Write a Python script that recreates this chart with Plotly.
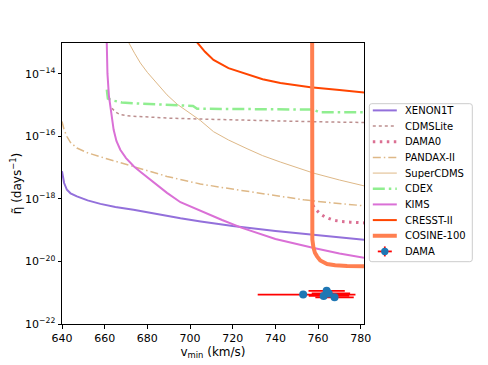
import plotly.graph_objects as go

xenon_v = [640, 641, 642.3, 644, 647, 652, 658, 665, 673.5, 685, 695.5, 705, 720, 740, 760, 781.5]
xenon_eta = [7.6e-18, 3.2e-18, 1.95e-18, 1.5e-18, 1.2e-18, 8.9e-19, 6.9e-19, 5.5e-19, 4.5e-19,
             3.2e-19, 2.4e-19, 1.9e-19, 1.35e-19, 9.3e-20, 6.9e-20, 4.9e-20]

cdmslite_v = [663.4, 665, 667.3, 672, 681.4, 690, 704.8, 720, 740, 760, 781.5]
cdmslite_eta = [7.9e-16, 6.0e-16, 4.9e-16, 4.4e-16, 4.1e-16, 3.8e-16, 3.55e-16, 3.3e-16, 3.1e-16, 2.9e-16, 2.75e-16]

dama0_v = [757.5, 758.7, 761, 763.4, 767, 770.4, 775, 781.5]
dama0_eta = [6.3e-19, 4.7e-19, 3.3e-19, 2.6e-19, 2.1e-19, 1.9e-19, 1.8e-19, 1.7e-19]

pandax_v = [640, 641, 642.3, 644, 647, 652, 658, 665, 673.6, 681, 689.2, 697, 704.8, 715, 725, 740, 753.3, 765, 781.5]
pandax_eta = [2.95e-16, 1.6e-16, 9.8e-17, 6.3e-17, 4.2e-17, 2.95e-17, 2.2e-17, 1.6e-17, 1.1e-17, 7.6e-18,
              5.2e-18, 3.9e-18, 3.0e-18, 2.3e-18, 1.8e-18, 1.26e-18, 9.3e-19, 7.6e-19, 6.0e-19]

supercdms_v = [670.5, 671.2, 674, 676.7, 680, 682.9, 686, 689.2, 694, 698.6, 704.8, 711, 718, 726.7,
               734, 742.3, 750, 758, 770, 781.5]
supercdms_eta = [1.6e-13, 1e-13, 4.5e-14, 2.2e-14, 1.1e-14, 6.5e-15, 3.5e-15, 2.1e-15, 1.05e-15, 6.3e-16,
                 3.2e-16, 1.4e-16, 7.6e-17, 4.0e-17, 2.4e-17, 1.5e-17, 1.0e-17, 6.6e-18, 4.0e-18, 2.6e-18]

cdex_v = [661, 661.5, 663.6, 668, 676.7, 690, 701.4, 703.3, 720, 740, 758, 760.3, 781.5]
cdex_eta = [3.1e-15, 1.6e-15, 1.4e-15, 1.2e-15, 1.1e-15, 1.0e-15, 9.3e-16, 7.6e-16, 7.4e-16, 7.2e-16,
            7.1e-16, 5.9e-16, 5.9e-16]

kims_v = [660.8, 661.3, 662.0, 663, 664.2, 665.5, 667.3, 670, 673.6, 677, 681.4, 685, 689.2, 695.5,
          705, 715, 724, 740, 758, 770, 781.5]
kims_eta = [3.2e-13, 1e-14, 1.9e-15, 5.6e-16, 1.6e-16, 7.1e-17, 3.7e-17, 2e-17, 1.1e-17, 7.1e-18, 4.1e-18,
            2.5e-18, 1.55e-18, 7.8e-19, 4e-19, 2.1e-19, 1.2e-19, 5.2e-20, 2.7e-20, 1.8e-20, 1.3e-20]

cresst_v = [702, 703.3, 707, 711, 718, 726.7, 734, 742.3, 750, 756.4, 770, 781.5]
cresst_eta = [1.6e-13, 1e-13, 5e-14, 2.75e-14, 1.5e-14, 9.3e-15, 6.6e-15, 5.0e-15, 4.2e-15, 3.7e-15, 3.0e-15, 2.5e-15]

cosine_v = [757.2, 757.2, 757.3, 757.8, 758.5, 759.5, 761, 764.2, 768, 773.6, 781.5]
cosine_eta = [3.2e-13, 3.2e-19, 5e-20, 2.8e-20, 1.9e-20, 1.45e-20, 1.07e-20, 8.3e-21, 7.6e-21, 7.2e-21, 7.0e-21]

dama_v = [753.0, 764.0, 762.6, 767.7, 765.0]
dama_eta = [8.7e-22, 1.15e-21, 7.9e-22, 7.1e-22, 9.5e-22]
dama_err_minus = [21.3, 8.5, 7.0, 9.0, 8.0]
dama_err_plus = [24.5, 8.5, 12.0, 9.0, 10.0]

y_ticks = [1e-22, 1e-20, 1e-18, 1e-16, 1e-14]
y_ticktext = ["10<sup>\u221222</sup>", "10<sup>\u221220</sup>", "10<sup>\u221218</sup>",
              "10<sup>\u221216</sup>", "10<sup>\u221214</sup>"]
x_ticks = [640, 660, 680, 700, 720, 740, 760, 780]

# name, colour, width, dash
line_styles = [
    ("XENON1T", "#9370DB", 2, "solid"),
    ("CDMSLite", "#BC8F8F", 1.5, "dot"),
    ("DAMA0", "#DB7093", 3, "2.5px,4.5px"),
    ("PANDAX-II", "#DEB887", 1.5, "8px,3px,1.5px,3px"),
    ("SuperCDMS", "#DEB887", 1, "solid"),
    ("CDEX", "#90EE90", 2.5, "12px,4px,2.5px,4px"),
    ("KIMS", "#DA70D6", 2, "solid"),
    ("CRESST-II", "#FF4500", 2, "solid"),
    ("COSINE-100", "#FF7F50", 4, "solid"),
]
curves = [(xenon_v, xenon_eta), (cdmslite_v, cdmslite_eta), (dama0_v, dama0_eta),
          (pandax_v, pandax_eta), (supercdms_v, supercdms_eta), (cdex_v, cdex_eta),
          (kims_v, kims_eta), (cresst_v, cresst_eta), (cosine_v, cosine_eta)]

fig = go.Figure()

for (name, color, width, dash), (vx, vy) in zip(line_styles, curves):
    fig.add_trace(go.Scatter(x=vx, y=vy, name=name, mode="lines", showlegend=False,
                             line=dict(color=color, width=width, dash=dash)))

fig.add_trace(go.Scatter(x=dama_v, y=dama_eta, name="DAMA", mode="markers", showlegend=False,
                         marker=dict(color="#1f77b4", size=8),
                         error_x=dict(type="data", array=dama_err_plus, arrayminus=dama_err_minus,
                                      color="red", thickness=1.8, width=0)))

# hand-made legend box (matplotlib style, tighter rows than plotly's own legend)
pw, ph = 302.0, 281.0
def px(x):
    return (x - 61.7) / pw
def py(y):
    return (324.3 - y) / ph

# rounded box
bx0, bx1, by0, by1, rr = 369, 472, 104, 262, 2.5
box_path = (f"M {px(bx0 + rr)},{py(by0)} L {px(bx1 - rr)},{py(by0)} Q {px(bx1)},{py(by0)} {px(bx1)},{py(by0 + rr)} "
            f"L {px(bx1)},{py(by1 - rr)} Q {px(bx1)},{py(by1)} {px(bx1 - rr)},{py(by1)} "
            f"L {px(bx0 + rr)},{py(by1)} Q {px(bx0)},{py(by1)} {px(bx0)},{py(by1 - rr)} "
            f"L {px(bx0)},{py(by0 + rr)} Q {px(bx0)},{py(by0)} {px(bx0 + rr)},{py(by0)} Z")
shapes = [dict(type="path", xref="paper", yref="paper", path=box_path,
               line=dict(color="#cccccc", width=1), fillcolor="white", layer="above")]
annotations = []
row0, step = 110.7, 15.67
for i, (name, color, width, dash) in enumerate(line_styles):
    yy = py(row0 + step * i)
    shapes.append(dict(type="line", xref="paper", yref="paper", x0=px(372.5), x1=px(396.5), y0=yy, y1=yy,
                       line=dict(color=color, width=width, dash=dash), layer="above"))
    annotations.append(dict(text=name, xref="paper", yref="paper", x=px(403), y=yy, xanchor="left",
                            yanchor="middle", showarrow=False, font=dict(size=10, color="black")))
yd = row0 + step * len(line_styles)
shapes.append(dict(type="line", xref="paper", yref="paper", x0=px(377.5), x1=px(391.5), y0=py(yd), y1=py(yd),
                   line=dict(color="red", width=1.8), layer="above"))
shapes.append(dict(type="line", xref="paper", yref="paper", x0=px(384.5), x1=px(384.5), y0=py(yd - 5), y1=py(yd + 5),
                   line=dict(color="red", width=1.8), layer="above"))
shapes.append(dict(type="circle", xref="paper", yref="paper", x0=px(380.8), x1=px(388.2), y0=py(yd + 3.7),
                   y1=py(yd - 3.7), line=dict(width=0), fillcolor="#1f77b4", layer="above"))
annotations.append(dict(text="DAMA", xref="paper", yref="paper", x=px(403), y=py(yd), xanchor="left",
                        yanchor="middle", showarrow=False, font=dict(size=10, color="black")))

axis_common = dict(showline=True, linecolor="black", linewidth=1, mirror=True,
                   ticks="outside", ticklen=3.5, tickcolor="black", showgrid=False, zeroline=False,
                   tickfont=dict(size=11, color="black"))

# the page body adds an 8px margin, so the figure is drawn 8px smaller
fig.update_layout(
    width=480, height=357,
    margin=dict(l=53.7, r=124.3, t=35.3, b=40.7, autoexpand=False),
    paper_bgcolor="white", plot_bgcolor="white",
    font=dict(family="DejaVu Sans", size=11, color="black"),
    xaxis=dict(range=[640, 781.5], tickvals=x_ticks,
               title=dict(text="v<sub>min</sub> (km/s)", font=dict(size=12), standoff=3),
               **axis_common),
    yaxis=dict(type="log", range=[-22, -13.02], tickvals=y_ticks, ticktext=y_ticktext,
               title=dict(text="\u03b7\u0303 (days<sup>\u22121</sup>)", font=dict(size=12), standoff=3),
               **axis_common),
    shapes=shapes,
    annotations=annotations,
    showlegend=False,
)

fig.write_html("out.html")
